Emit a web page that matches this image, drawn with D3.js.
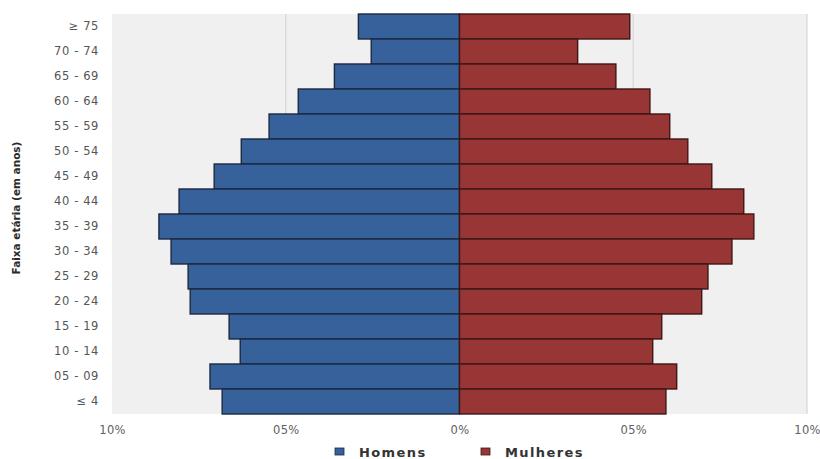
<!DOCTYPE html>
<html>
<head>
<meta charset="utf-8">
<script src="https://cdn.jsdelivr.net/npm/d3@7"></script>
<style>
  html, body { margin: 0; padding: 0; background: #fff; }
  svg { display: block; }
  text { font-family: "DejaVu Sans", Verdana, sans-serif; }
</style>
</head>
<body>
<svg id="chart" width="820" height="459"></svg>
<script>
// Age groups, oldest at the top
const ageGroups = ["≥ 75", "70 - 74", "65 - 69", "60 - 64", "55 - 59", "50 - 54", "45 - 49",
  "40 - 44", "35 - 39", "30 - 34", "25 - 29", "20 - 24", "15 - 19", "10 - 14", "05 - 09", "≤ 4"];

// Share of population (%) per age group
const homens = [2.91, 2.54, 3.60, 4.64, 5.48, 6.28, 7.06, 8.07, 8.65, 8.30, 7.81, 7.75, 6.63, 6.31, 7.18, 6.83];
const mulheres = [4.90, 3.40, 4.50, 5.48, 6.05, 6.57, 7.26, 8.18, 8.47, 7.84, 7.15, 6.97, 5.82, 5.56, 6.25, 5.94];

const xTicks = [-10, -5, 0, 5, 10];
const seriesNames = ["Homens", "Mulheres"];
const seriesColors = ["#36619a", "#983535"];
const strokeColors = ["#1c2940", "#3f1616"];

const svg = d3.select("#chart");
const margin = { left: 112, right: 13, top: 14, bottom: 45 };
const W = 820, H = 459;

const x = d3.scaleLinear().domain([-10, 10]).range([margin.left, W - margin.right]);
const y = d3.scaleBand().domain(ageGroups).range([margin.top, H - margin.bottom]).padding(0);

// panel background
svg.append("rect")
  .attr("x", x(-10)).attr("y", y.range()[0])
  .attr("width", x(10) - x(-10)).attr("height", y.range()[1] - y.range()[0])
  .attr("fill", "#f0f0f0");

// vertical grid lines
svg.append("g").selectAll("line")
  .data(xTicks.filter(d => d !== 0 && d !== -10))
  .join("line")
  .attr("x1", d => x(d)).attr("x2", d => x(d))
  .attr("y1", y.range()[0]).attr("y2", y.range()[1])
  .attr("stroke", "#d6d6d6").attr("stroke-width", 1.2);

// bars
const rows = ageGroups.map((g, i) => ({ g, h: homens[i], m: mulheres[i] }));

svg.append("g").selectAll("rect")
  .data(rows)
  .join("rect")
  .attr("x", d => x(-d.h))
  .attr("y", d => y(d.g))
  .attr("width", d => x(0) - x(-d.h))
  .attr("height", y.bandwidth())
  .attr("fill", seriesColors[0])
  .attr("stroke", strokeColors[0])
  .attr("stroke-width", 1.4);

svg.append("g").selectAll("rect")
  .data(rows)
  .join("rect")
  .attr("x", x(0))
  .attr("y", d => y(d.g))
  .attr("width", d => x(d.m) - x(0))
  .attr("height", y.bandwidth())
  .attr("fill", seriesColors[1])
  .attr("stroke", strokeColors[1])
  .attr("stroke-width", 1.4);

// x axis
const fmt = v => v === 0 ? "0%" : d3.format("02d")(Math.abs(v)) + "%";
const xAxis = svg.append("g")
  .attr("transform", `translate(0,${y.range()[1]})`)
  .call(d3.axisBottom(x).tickValues(xTicks).tickFormat(fmt).tickSize(0).tickPadding(12));
xAxis.select(".domain").remove();
xAxis.selectAll("text")
  .attr("font-size", 11.5)
  .attr("fill", "#606060")
  .attr("letter-spacing", 0.3);

// y axis
const yAxis = svg.append("g")
  .attr("transform", `translate(${margin.left},0)`)
  .call(d3.axisLeft(y).tickSize(0).tickPadding(13));
yAxis.select(".domain").remove();
yAxis.selectAll("text")
  .attr("font-size", 11.5)
  .attr("fill", "#555")
  .attr("letter-spacing", 0.6);

// y axis title
svg.append("text")
  .attr("transform", `translate(20,${(y.range()[0] + y.range()[1]) / 2 - 6}) rotate(-90)`)
  .attr("text-anchor", "middle")
  .attr("font-family", "Liberation Sans, Arial, sans-serif")
  .attr("font-size", 10.5)
  .attr("font-weight", "bold")
  .attr("fill", "#2a2a2a")
  .text("Faixa etária (em anos)");

// legend
const legendX = [335, 481];
const legend = svg.append("g");
seriesNames.forEach((name, i) => {
  legend.append("rect")
    .attr("x", legendX[i]).attr("y", 448)
    .attr("width", 9).attr("height", 7)
    .attr("fill", seriesColors[i])
    .attr("stroke", strokeColors[i]).attr("stroke-width", 0.8);
  legend.append("text")
    .attr("x", legendX[i] + 24).attr("y", 457)
    .attr("font-size", 13)
    .attr("font-weight", "bold")
    .attr("fill", "#333")
    .attr("letter-spacing", 1.4)
    .text(name);
});
</script>
</body>
</html>
